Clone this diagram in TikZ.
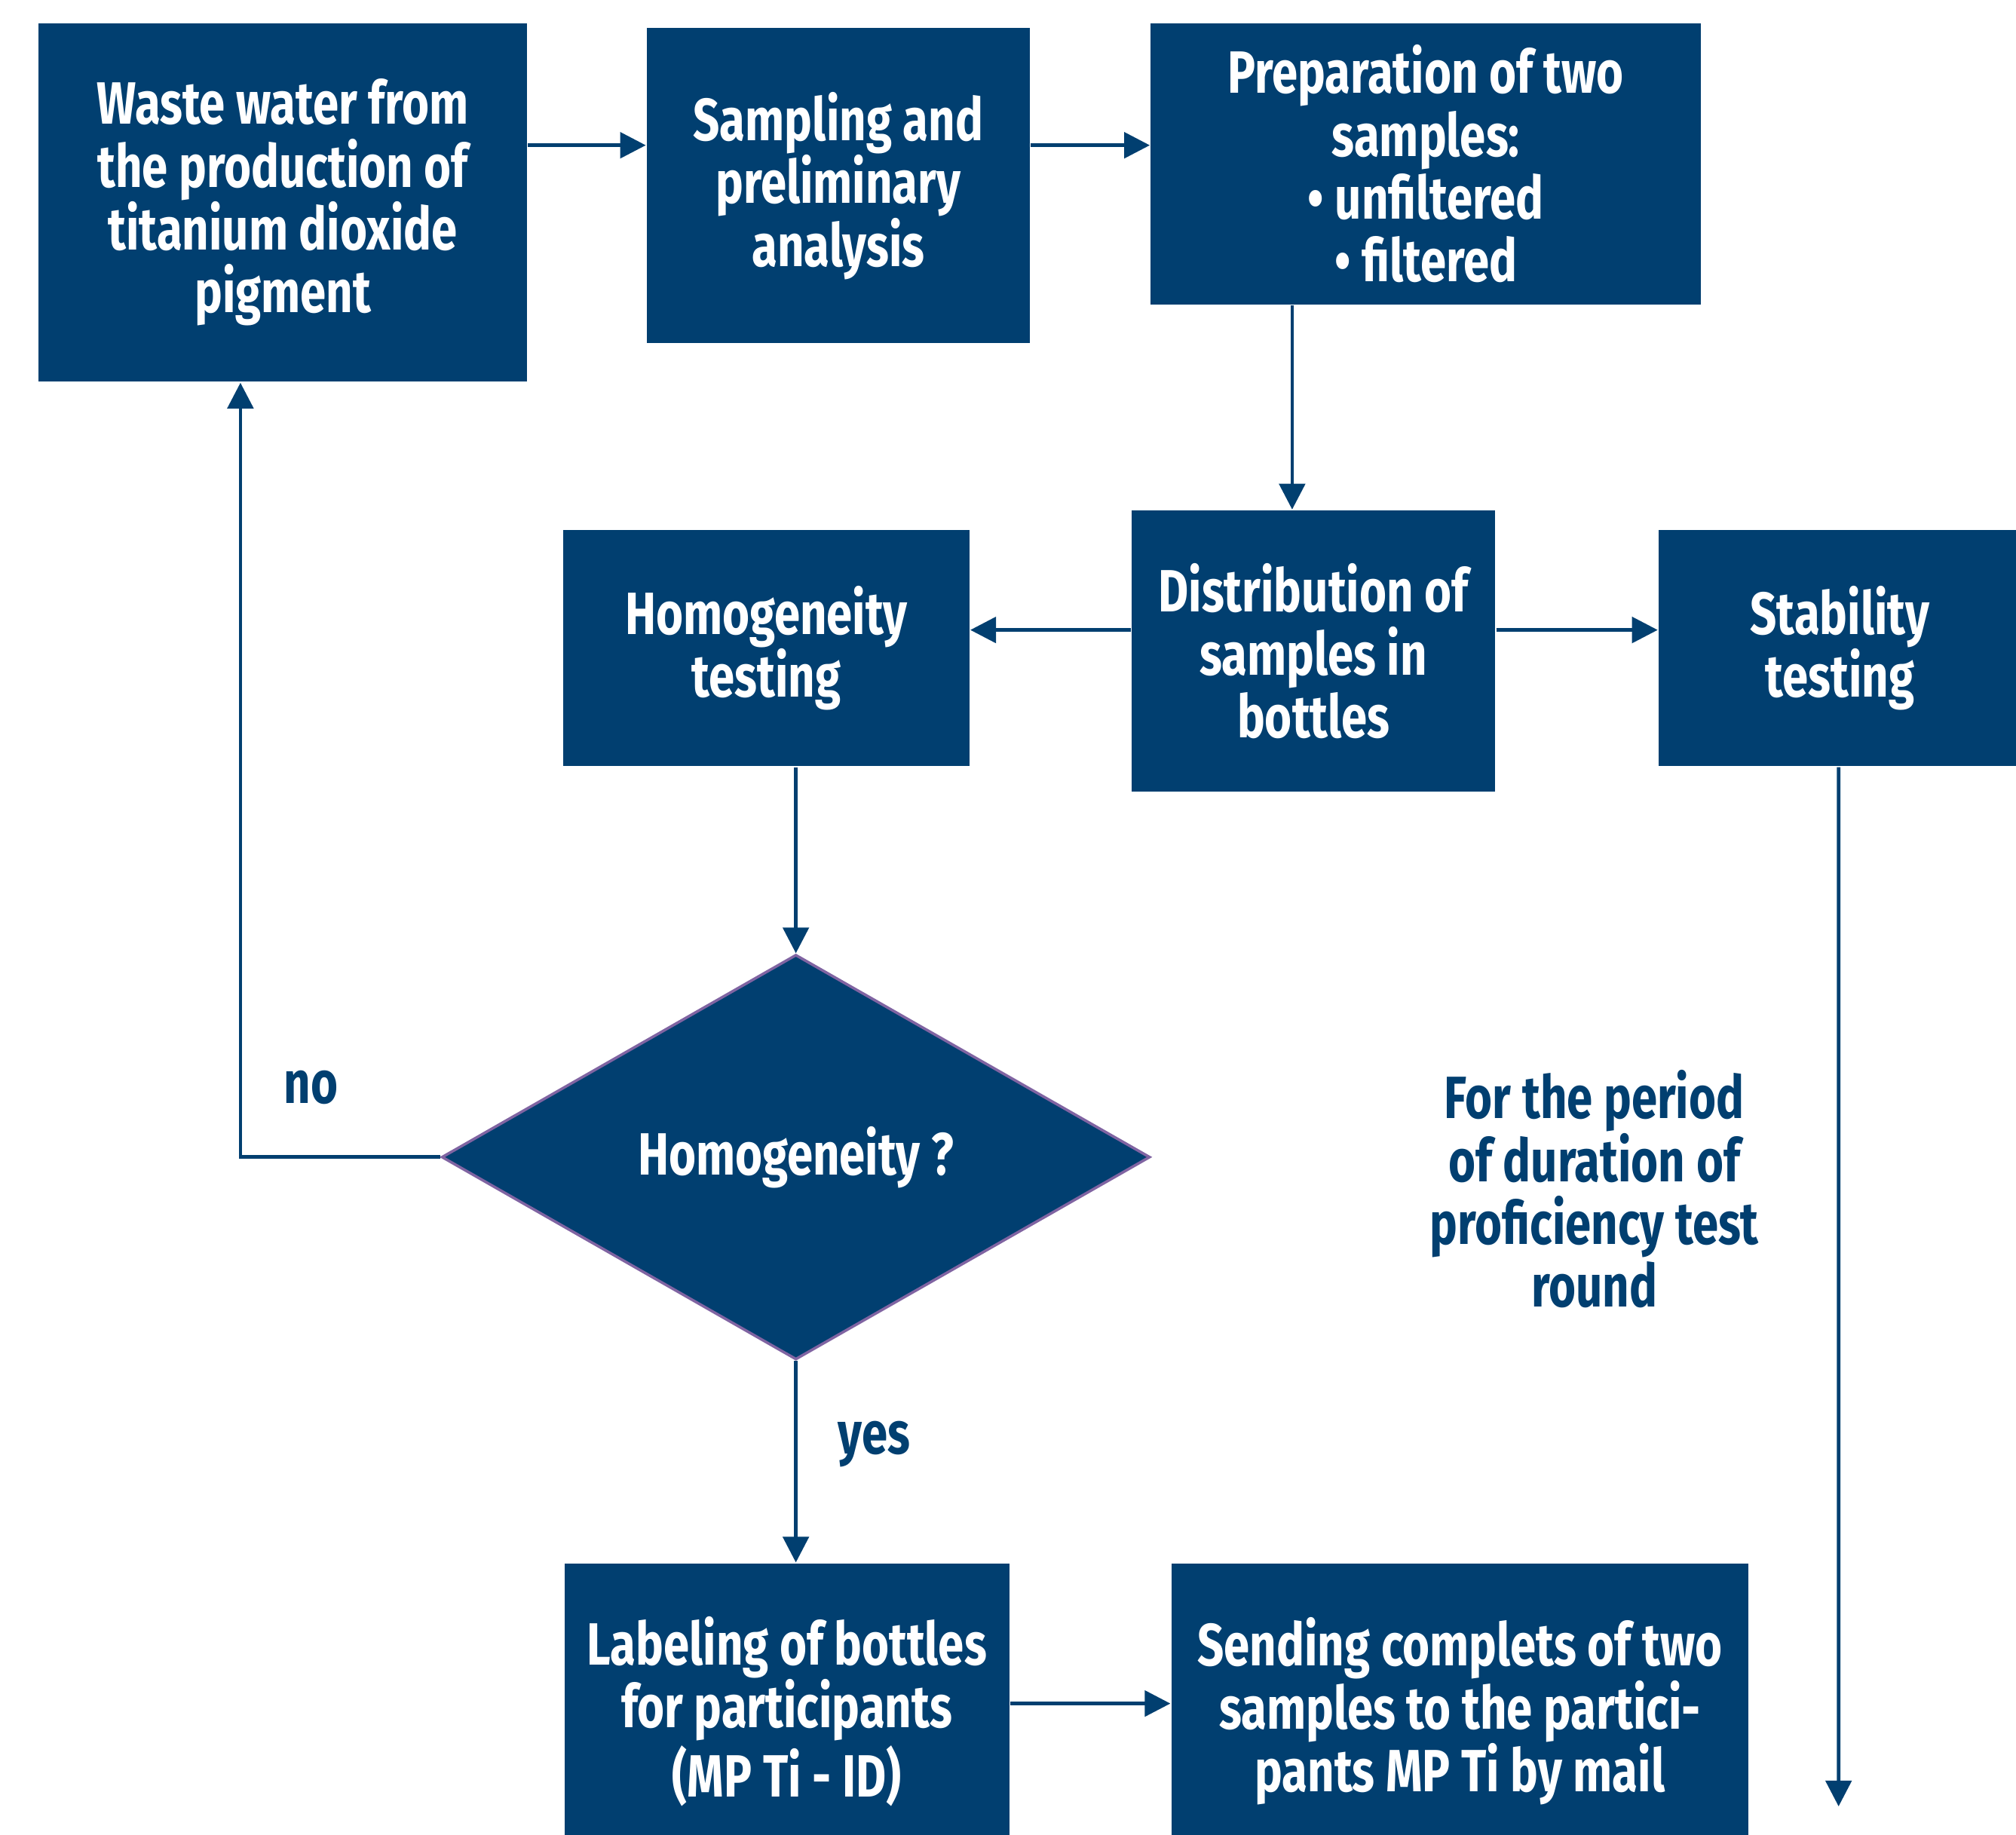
\documentclass[tikz,border=0pt]{standalone}
\usepackage{fontspec}
\setmainfont{Fira Sans}[FakeStretch=0.78]
\usetikzlibrary{shapes.geometric,arrows.meta}
\definecolor{pigblue}{HTML}{013F70}
\definecolor{rimpurple}{HTML}{8064A2}
\begin{document}
\begin{tikzpicture}[
    stepbox/.style={fill=pigblue, text=white, align=center, inner sep=0pt,
        font=\fontsize{13.2pt}{13.9pt}\selectfont\bfseries},
    flow/.style={draw=pigblue, line width=0.8pt, -{Triangle[length=2mm, width=2mm]}},
    note/.style={text=pigblue, align=center, font=\fontsize{13.2pt}{13.9pt}\selectfont\bfseries}
]
        \useasboundingbox (0,0) rectangle (15.68,-14.27);

        % Top row
        \node[stepbox, minimum width=3.80cm, minimum height=2.79cm] (waste) at (2.20,-1.575)
            {Waste water from\\the production of\\titanium dioxide\\pigment};
        \node[stepbox, minimum width=2.98cm, minimum height=2.45cm] (sampling) at (6.52,-1.445)
            {Sampling and\\preliminary\\analysis};
        \node[stepbox, minimum width=4.28cm, minimum height=2.19cm] (prep) at (11.09,-1.275)
            {Preparation of two\\samples:\\• unfiltered\\• filtered};

        % Middle row
        \node[stepbox, minimum width=3.16cm, minimum height=1.84cm] (homtest) at (5.96,-5.04)
            {Homogeneity\\testing};
        \node[stepbox, minimum width=2.83cm, minimum height=2.19cm] (dist) at (10.215,-5.065)
            {Distribution of\\samples in\\bottles};
        \node[stepbox, minimum width=2.82cm, minimum height=1.84cm] (stab) at (14.31,-5.04)
            {Stability\\testing};

        % Decision
        \node[diamond, fill=pigblue, draw=rimpurple, line width=0.6pt, text=white, inner sep=0pt,
            minimum width=5.51cm, minimum height=3.15cm,
            font=\fontsize{13.2pt}{13.9pt}\selectfont\bfseries] (decision) at (6.19,-9.00) {Homogeneity ?};

        % Bottom row
        \node[stepbox, minimum width=3.46cm, minimum height=2.30cm] (label) at (6.12,-13.31)
            {Labeling of bottles\\for participants\\(MP Ti - ID)};
        \node[stepbox, minimum width=4.49cm, minimum height=2.30cm] (send) at (11.355,-13.31)
            {Sending complets of two\\samples to the partici-\\pants MP Ti by mail};

        % Texts beside the arrows
        \node[note] (no) at (2.42,-8.46) {no};
        \node[note] (yes) at (6.80,-11.23) {yes};
        \node[note] (period) at (12.40,-9.25) {For the period\\of duration of\\proficiency test\\round};

        % Arrows
        \draw[flow] ([yshift=4.45mm]waste.east) -- ([yshift=4.45mm]waste.east -| sampling.west);
        \draw[flow] ([yshift=3.15mm]sampling.east) -- ([yshift=3.15mm]sampling.east -| prep.west);
        \draw[flow] ([xshift=-10.4mm]prep.south) -- ([xshift=-10.4mm]prep.south |- dist.north);
        \draw[flow] ([yshift=1.65mm]dist.west) -- ([yshift=1.65mm]dist.west -| homtest.east);
        \draw[flow] ([yshift=1.65mm]dist.east) -- ([yshift=1.65mm]dist.east -| stab.west);
        \draw[flow] (decision.north |- homtest.south) -- (decision.north);
        \draw[flow] (decision.south) -- (decision.south |- label.north);
        \draw[flow] (decision.west) -| ([xshift=-3.3mm]waste.south);
        \draw[flow] ([yshift=0.6mm]label.east) -- ([yshift=0.6mm]label.east -| send.west);

        % Stability line runs down to the end of the round
        \coordinate (stabend) at (14.30,-14.05);
        \draw[flow] ([xshift=-0.1mm]stab.south) -- (stabend);
    \end{tikzpicture}
\end{document}
